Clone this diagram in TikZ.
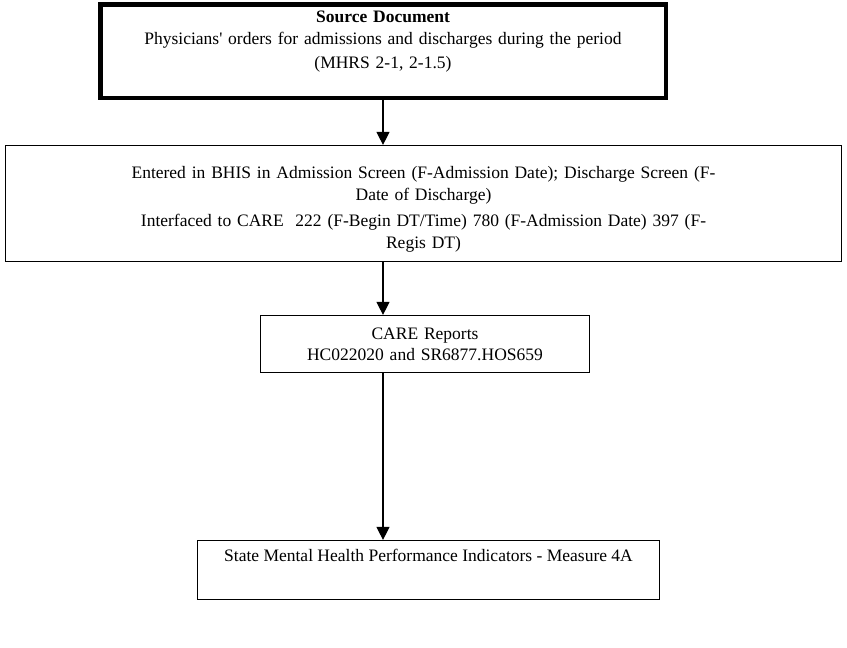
\documentclass[tikz,border=0pt]{standalone}
\usepackage{fontspec}
\setmainfont{Liberation Serif}
\usetikzlibrary{positioning,arrows.meta}

\begin{document}
\begin{tikzpicture}[x=1pt, y=-1pt,
  font=\fontsize{17.5}{22}\selectfont,
  stepbox/.style={draw, line width=1.2pt, align=center, inner sep=0pt},
  sourcebox/.style={stepbox, line width=4.5pt},
  flow/.style={-{Triangle[length=13pt, width=13pt]}, line width=1.2pt}]
\useasboundingbox (0,0) rectangle (847,648);
% source document (thick frame)
\node[sourcebox, minimum width=565.5pt, minimum height=93.5pt, text width=560pt, text depth=69pt]
  (srcdoc) at (383,51)
  {\textbf{Source Document}\\
   Physicians\textquotesingle{} orders for admissions and discharges during the period\\[2pt]
   (MHRS 2-1, 2-1.5)};
% BHIS entry
\node[stepbox, minimum width=836pt, minimum height=116pt, text width=830pt, text depth=63pt]
  (bhis) at (423.5,203.5)
  {Entered in BHIS in Admission Screen (F-Admission Date); Discharge Screen (F-\\
   Date of Discharge)\\[4pt]
   Interfaced to CARE\ \ 222 (F-Begin DT/Time) 780 (F-Admission Date) 397 (F-\\
   Regis DT)};
% CARE reports
\node[stepbox, minimum width=329pt, minimum height=57pt, text width=320pt,
      font=\fontsize{17.5}{21}\selectfont]
  (care) at (425,344)
  {CARE Reports\\ HC022020 and SR6877.HOS659};
% performance indicators
\node[stepbox, minimum width=462pt, minimum height=59pt, text depth=29pt]
  (perf) at (428.5,570)
  {State Mental Health Performance Indicators - Measure 4A};
% arrows
\draw[flow] (srcdoc.south) -- (srcdoc.south |- bhis.north);
\draw[flow] (srcdoc.south |- bhis.south) -- (srcdoc.south |- care.north);
\draw[flow] (srcdoc.south |- care.south) -- (srcdoc.south |- perf.north);
\end{tikzpicture}
\end{document}
